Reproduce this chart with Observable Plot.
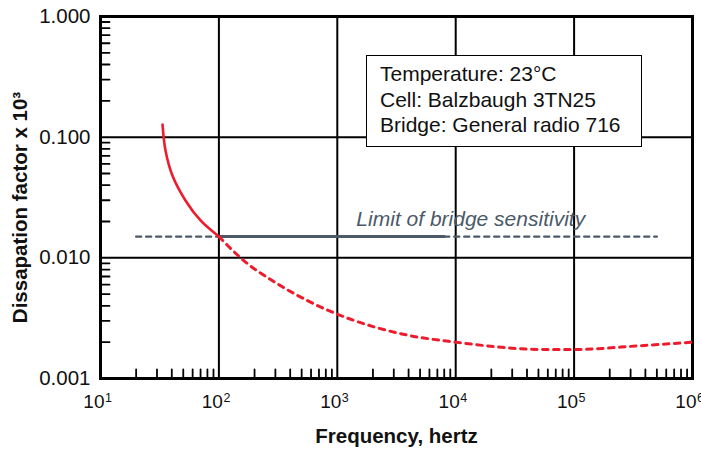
<!DOCTYPE html>
<html><head><meta charset="utf-8">
<script src="https://cdn.jsdelivr.net/npm/d3@7"></script>
<script src="https://cdn.jsdelivr.net/npm/@observablehq/plot@0.6"></script>
<style>
html,body{margin:0;padding:0;background:#fff;}
#wrap{position:relative;width:701px;height:449px;font-family:"Liberation Sans",Arial,Helvetica,sans-serif;}
#legend{position:absolute;left:366px;top:55px;width:276px;height:92px;box-sizing:border-box;border:1.5px solid #000;background:#fff;font-size:21px;line-height:25.5px;padding:5px 0 0 13px;color:#111;}
</style>
</head><body><div id="wrap"></div>
<script>
// tick values and labels
const majorFreq = [10, 100, 1e3, 1e4, 1e5, 1e6];
const freqExponents = ["1", "2", "3", "4", "5", "6"];
const majorDF = [0.001, 0.01, 0.1, 1];
const dfLabels = ["0.001", "0.010", "0.100", "1.000"];
const minorMultipliers = [2, 3, 4, 5, 6, 7, 8, 9];
// measured curve (solid)
const measuredFreq = [33.4, 35.4, 40.5, 52.2, 70.0, 100];
const measuredDF = [0.127, 0.0776, 0.0481, 0.0299, 0.0204, 0.015];
// extrapolated curve (dashed)
const extrapFreq = [100, 162, 321, 966, 1380, 3890, 1e4, 5.5e4, 1e5, 3.63e5, 1e6];
const extrapDF = [0.015, 0.0095, 0.006, 0.00346, 0.00303, 0.00229, 0.0020, 0.00174, 0.00174, 0.00187, 0.0020];
// bridge sensitivity limit
const limitDF = 0.015;
const limitFreq = [20, 100, 8000, 5e5];
const limitLabel = "Limit of bridge sensitivity";
const limitLabelFreq = 1.34e4;
// texts
const legendLines = ["Temperature: 23°C", "Cell: Balzbaugh 3TN25", "Bridge: General radio 716"];
const xTitle = "Frequency, hertz";
const yTitle = "Dissapation factor x 10³";

const red = "#ec1c2d";
const slate = "#4b5968";

const xMinor = [];
for (const d of majorFreq.slice(0, -1)) for (const m of minorMultipliers) xMinor.push(d * m);
const yMinor = [];
for (const d of majorDF.slice(0, -1)) for (const m of minorMultipliers) yMinor.push(d * m);

const measured = measuredFreq.map((f, i) => ({f, v: measuredDF[i]}));
const extrap = extrapFreq.map((f, i) => ({f, v: extrapDF[i]}));
const limitSeg = (a, b) => [{f: limitFreq[a], v: limitDF}, {f: limitFreq[b], v: limitDF}];

const chart = Plot.plot({
  width: 701, height: 449,
  marginLeft: 100, marginRight: 9, marginTop: 16, marginBottom: 71,
  x: {type: "log", domain: [10, 1e6], axis: null},
  y: {type: "log", domain: [0.001, 1], axis: null},
  style: {fontFamily: "'Liberation Sans', Arial, Helvetica, sans-serif", background: "#fff", color: "#111"},
  marks: [
    Plot.ruleX(majorFreq.slice(1, -1), {stroke: "#000", strokeWidth: 2}),
    Plot.ruleY(majorDF.slice(1, -1), {stroke: "#000", strokeWidth: 2}),
    Plot.vector(xMinor, {x: d => d, frameAnchor: "bottom", length: 9, rotate: 0, anchor: "start", shape: "spike", r: 0, stroke: "#000", strokeWidth: 1.8}),
    Plot.vector(yMinor, {y: d => d, frameAnchor: "left", length: 9, rotate: 90, anchor: "start", shape: "spike", r: 0, stroke: "#000", strokeWidth: 1.8}),
    Plot.frame({stroke: "#000", strokeWidth: 3}),
    Plot.line(limitSeg(0, 1), {x: "f", y: "v", stroke: slate, strokeWidth: 2.4, strokeDasharray: "5,5"}),
    Plot.line(limitSeg(2, 3), {x: "f", y: "v", stroke: slate, strokeWidth: 2.4, strokeDasharray: "5,5"}),
    Plot.line(limitSeg(1, 2), {x: "f", y: "v", stroke: slate, strokeWidth: 3}),
    Plot.line(extrap, {x: "f", y: "v", stroke: red, strokeWidth: 3, strokeDasharray: "5.5,5.5", curve: "monotone-x"}),
    Plot.line(measured, {x: "f", y: "v", stroke: red, strokeWidth: 2.6, curve: "catmull-rom"}),
    Plot.text([limitLabel], {x: limitLabelFreq, y: limitDF, text: d => d, dy: -11, lineAnchor: "bottom", fontStyle: "italic", fontSize: 21, fill: slate}),
    Plot.text(majorDF, {y: d => d, frameAnchor: "left", text: (d, i) => dfLabels[i], textAnchor: "end", dx: -10, lineAnchor: "middle", fontSize: 20.5, fill: "#111"}),
    Plot.text(majorFreq, {x: d => d, frameAnchor: "bottom", text: () => "10", textAnchor: "end", dx: 4, dy: 29.5, lineAnchor: "bottom", fontSize: 19, fill: "#111"}),
    Plot.text(majorFreq, {x: d => d, frameAnchor: "bottom", text: (d, i) => freqExponents[i], textAnchor: "start", dx: 4.5, dy: 23, lineAnchor: "bottom", fontSize: 12.5, fill: "#111"}),
    Plot.text([xTitle], {frameAnchor: "bottom", text: d => d, textAnchor: "middle", dy: 64, lineAnchor: "bottom", fontSize: 20.5, fontWeight: "bold", fill: "#111"}),
    Plot.text([yTitle], {frameAnchor: "left", text: d => d, textAnchor: "middle", dx: -80, dy: 10, rotate: -90, lineAnchor: "middle", fontSize: 20.5, fontWeight: "bold", fill: "#111"})
  ]
});
const wrap = document.getElementById("wrap");
wrap.appendChild(chart);
const legend = document.createElement("div");
legend.id = "legend";
for (const line of legendLines) {
  const el = document.createElement("div");
  el.textContent = line;
  legend.appendChild(el);
}
wrap.appendChild(legend);
</script>
</body></html>
